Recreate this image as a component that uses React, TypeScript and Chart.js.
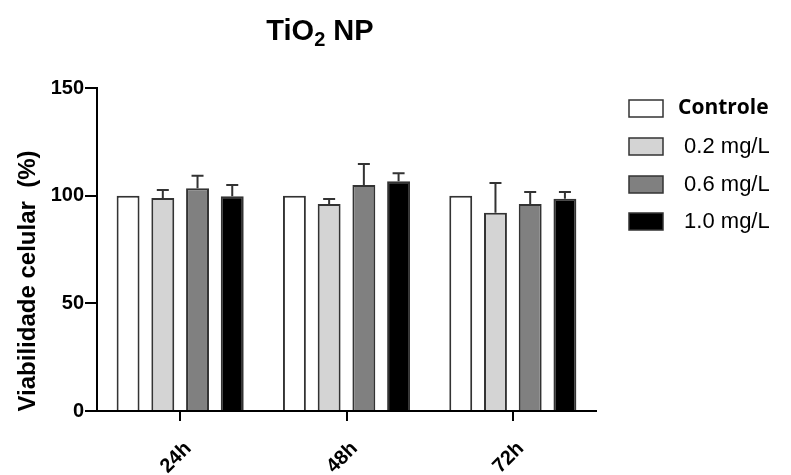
import React, { useEffect, useRef } from "react";
import { Chart, registerables } from "chart.js";

Chart.register(...registerables);

const categories = ["24h", "48h", "72h"];
const seriesLabels = ["Controle", " 0.2 mg/L", " 0.6 mg/L", " 1.0 mg/L"];
const controle = [100, 100, 100];
const controleErr = [0, 0, 0];
const mg02 = [98.9, 96.1, 92.1];
const mg02Err = [3.7, 2.4, 13.8];
const mg06 = [103.4, 105.0, 96.1];
const mg06Err = [5.9, 9.7, 5.6];
const mg10 = [99.7, 106.7, 98.6];
const mg10Err = [5.3, 3.7, 3.1];
const yTicks = [0, 50, 100, 150];

const fills = ["#ffffff", "#d4d4d4", "#808080", "#000000"];
const FONT = "'Liberation Sans', Arial, sans-serif";
const errors = [controleErr, mg02Err, mg06Err, mg10Err];

const errorBarPlugin = {
  id: "errorBars",
  afterDatasetsDraw(chart: any) {
    const ctx = chart.ctx;
    const yScale = chart.scales.y;
    ctx.save();
    ctx.strokeStyle = "#333";
    ctx.lineWidth = 2;
    chart.data.datasets.forEach((ds: any, i: number) => {
      const meta = chart.getDatasetMeta(i);
      meta.data.forEach((bar: any, j: number) => {
        const err = errors[i][j];
        if (!err) return;
        const v = ds.data[j];
        const y0 = yScale.getPixelForValue(v);
        const y1 = yScale.getPixelForValue(v + err);
        ctx.beginPath();
        ctx.moveTo(bar.x, y0);
        ctx.lineTo(bar.x, y1);
        ctx.moveTo(bar.x - 6, y1);
        ctx.lineTo(bar.x + 6, y1);
        ctx.stroke();
      });
    });
    ctx.restore();
  },
};

const decorPlugin = {
  id: "decor",
  afterDraw(chart: any) {
    const ctx = chart.ctx;
    ctx.save();
    ctx.fillStyle = "#000";
    // Title with subscript
    ctx.textBaseline = "alphabetic";
    const big = `bold 29px ${FONT}`;
    const small = `bold 20px ${FONT}`;
    const p1 = "TiO";
    const p3 = " NP";
    ctx.font = big;
    const w1 = ctx.measureText(p1).width;
    const w3 = ctx.measureText(p3).width;
    ctx.font = small;
    const w2 = ctx.measureText("2").width;
    const total = w1 + w2 + w3;
    let x = 320 - total / 2;
    const base = 40;
    ctx.textAlign = "left";
    ctx.font = big;
    ctx.fillText(p1, x, base);
    x += w1;
    ctx.font = small;
    ctx.fillText("2", x, base + 6);
    x += w2;
    ctx.font = big;
    ctx.fillText(p3, x, base);

    // Y axis title
    ctx.save();
    ctx.translate(28, 281);
    ctx.rotate(-Math.PI / 2);
    ctx.textAlign = "center";
    ctx.textBaseline = "middle";
    ctx.font = `bold 24px ${FONT}`;
    ctx.fillText("Viabilidade celular  (%)", 0, 0);
    ctx.restore();

    // Legend
    const rowsY = [108, 146, 184, 221];
    chart.data.datasets.forEach((ds: any, i: number) => {
      const cy = rowsY[i];
      ctx.fillStyle = fills[i];
      ctx.fillRect(629, cy - 8, 34, 17);
      ctx.strokeStyle = "#333";
      ctx.lineWidth = 1.5;
      ctx.strokeRect(629, cy - 8, 34, 17);
      ctx.fillStyle = "#000";
      ctx.textAlign = "left";
      ctx.textBaseline = "middle";
      if (i === 0) {
        ctx.font = `bold 21px 'Open Sans', ${FONT}`;
        ctx.fillText(ds.label, 678, cy);
      } else {
        ctx.font = `22px ${FONT}`;
        ctx.fillText(ds.label, 678, cy + 1);
      }
    });
    ctx.restore();
  },
};

export default function App() {
  const ref = useRef<HTMLCanvasElement | null>(null);
  useEffect(() => {
    if (!ref.current) return;
    const values = [controle, mg02, mg06, mg10];
    const chart = new Chart(ref.current, {
      type: "bar",
      data: {
        labels: categories,
        datasets: values.map((d, i) => ({
          label: seriesLabels[i],
          data: d,
          backgroundColor: fills[i],
          borderColor: "#333",
          borderWidth: 2,
          borderSkipped: "bottom",
          categoryPercentage: 0.835,
          barPercentage: 0.66,
        })),
      },
      options: {
        responsive: false,
        animation: false,
        layout: { padding: { top: 88, right: 195, bottom: 0, left: 0 } },
        plugins: {
          legend: { display: false },
          title: { display: false },
          tooltip: { enabled: false },
        },
        scales: {
          x: {
            grid: {
              display: true,
              drawOnChartArea: false,
              drawTicks: true,
              tickLength: 10,
              offset: false,
              color: "#000",
              lineWidth: 2,
            },
            border: { color: "#000", width: 2 },
            ticks: {
              color: "#000",
              font: { family: FONT, size: 20, weight: "bold" },
              minRotation: 45,
              maxRotation: 45,
              padding: 16,
              labelOffset: 8,
            },
            afterFit: (s: any) => {
              s.height = 64;
            },
          },
          y: {
            min: 0,
            max: 150,
            afterBuildTicks: (s: any) => {
              s.ticks = yTicks.map((v) => ({ value: v }));
            },
            grid: {
              display: true,
              drawOnChartArea: false,
              drawTicks: true,
              tickLength: 12,
              color: "#000",
              lineWidth: 2,
            },
            border: { color: "#000", width: 2 },
            ticks: {
              color: "#000",
              font: { family: FONT, size: 20, weight: "bold" },
              padding: 1,
            },
            afterFit: (s: any) => {
              s.width = 97;
            },
          },
        },
      },
      plugins: [errorBarPlugin, decorPlugin],
    } as any);
    return () => chart.destroy();
  }, []);
  return (
    <div style={{ position: "absolute", left: 0, top: 0, width: 791, height: 475, background: "#fff" }}>
      <canvas ref={ref} width={791} height={475} style={{ display: "block" }} />
    </div>
  );
}
